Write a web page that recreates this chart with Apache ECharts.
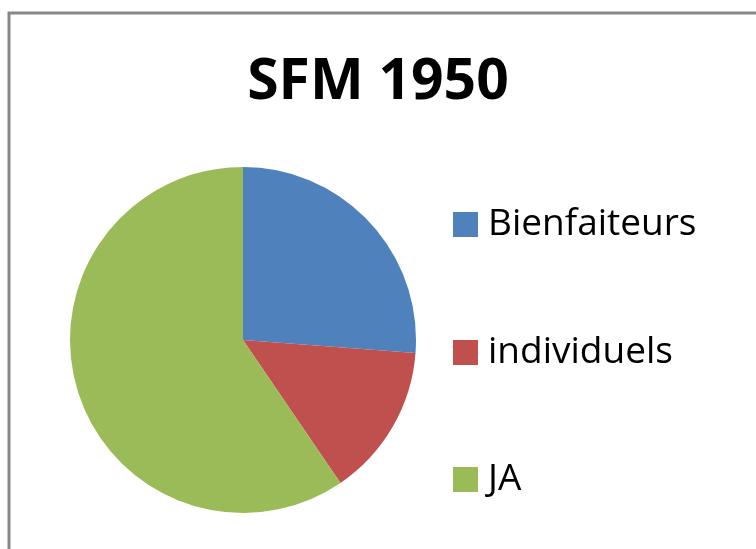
<!DOCTYPE html>
<html>
<head>
<meta charset="utf-8">
<script src="https://cdn.jsdelivr.net/npm/echarts@6/dist/echarts.min.js"></script>
<style>html,body{margin:0;padding:0;background:#fff}#c{width:756px;height:549px}</style>
</head>
<body>
<div id="c"></div>
<script>
const titleText = "SFM 1950";
const categories = ["Bienfaiteurs", "individuels", "JA"];
const values = [11, 6, 25];
const colors = ["#4F81BD", "#C0504D", "#9BBB59"];

const chart = echarts.init(document.getElementById('c'), null, {renderer: 'canvas'});
const legendTops = [206, 334, 461];
const legends = categories.map((name, i) => ({
  orient: 'vertical',
  left: 453,
  top: legendTops[i],
  data: [name],
  itemWidth: 25,
  itemHeight: 25,
  icon: 'rect',
  selectedMode: false,
  padding: 0,
  textStyle: {fontFamily: 'Open Sans', fontSize: 37, color: '#000', lineHeight: 25, padding: [0, 0, 0, 5]}
}));
chart.setOption({
  animation: false,
  color: colors,
  title: {
    text: titleText,
    left: 'center',
    top: 49,
    textStyle: {fontFamily: 'Open Sans', fontWeight: 'bold', fontSize: 57, color: '#000'}
  },
  legend: legends,
  graphic: [{
    type: 'rect',
    shape: {x: 9, y: 13, width: 900, height: 700},
    style: {fill: 'none', stroke: '#878787', lineWidth: 3},
    silent: true
  }],
  series: [{
    type: 'pie',
    center: [243, 340],
    radius: 173,
    startAngle: 90,
    clockwise: true,
    label: {show: false},
    labelLine: {show: false},
    itemStyle: {borderWidth: 0},
    emphasis: {disabled: true},
    data: categories.map((n, i) => ({name: n, value: values[i]}))
  }]
});
</script>
</body>
</html>
